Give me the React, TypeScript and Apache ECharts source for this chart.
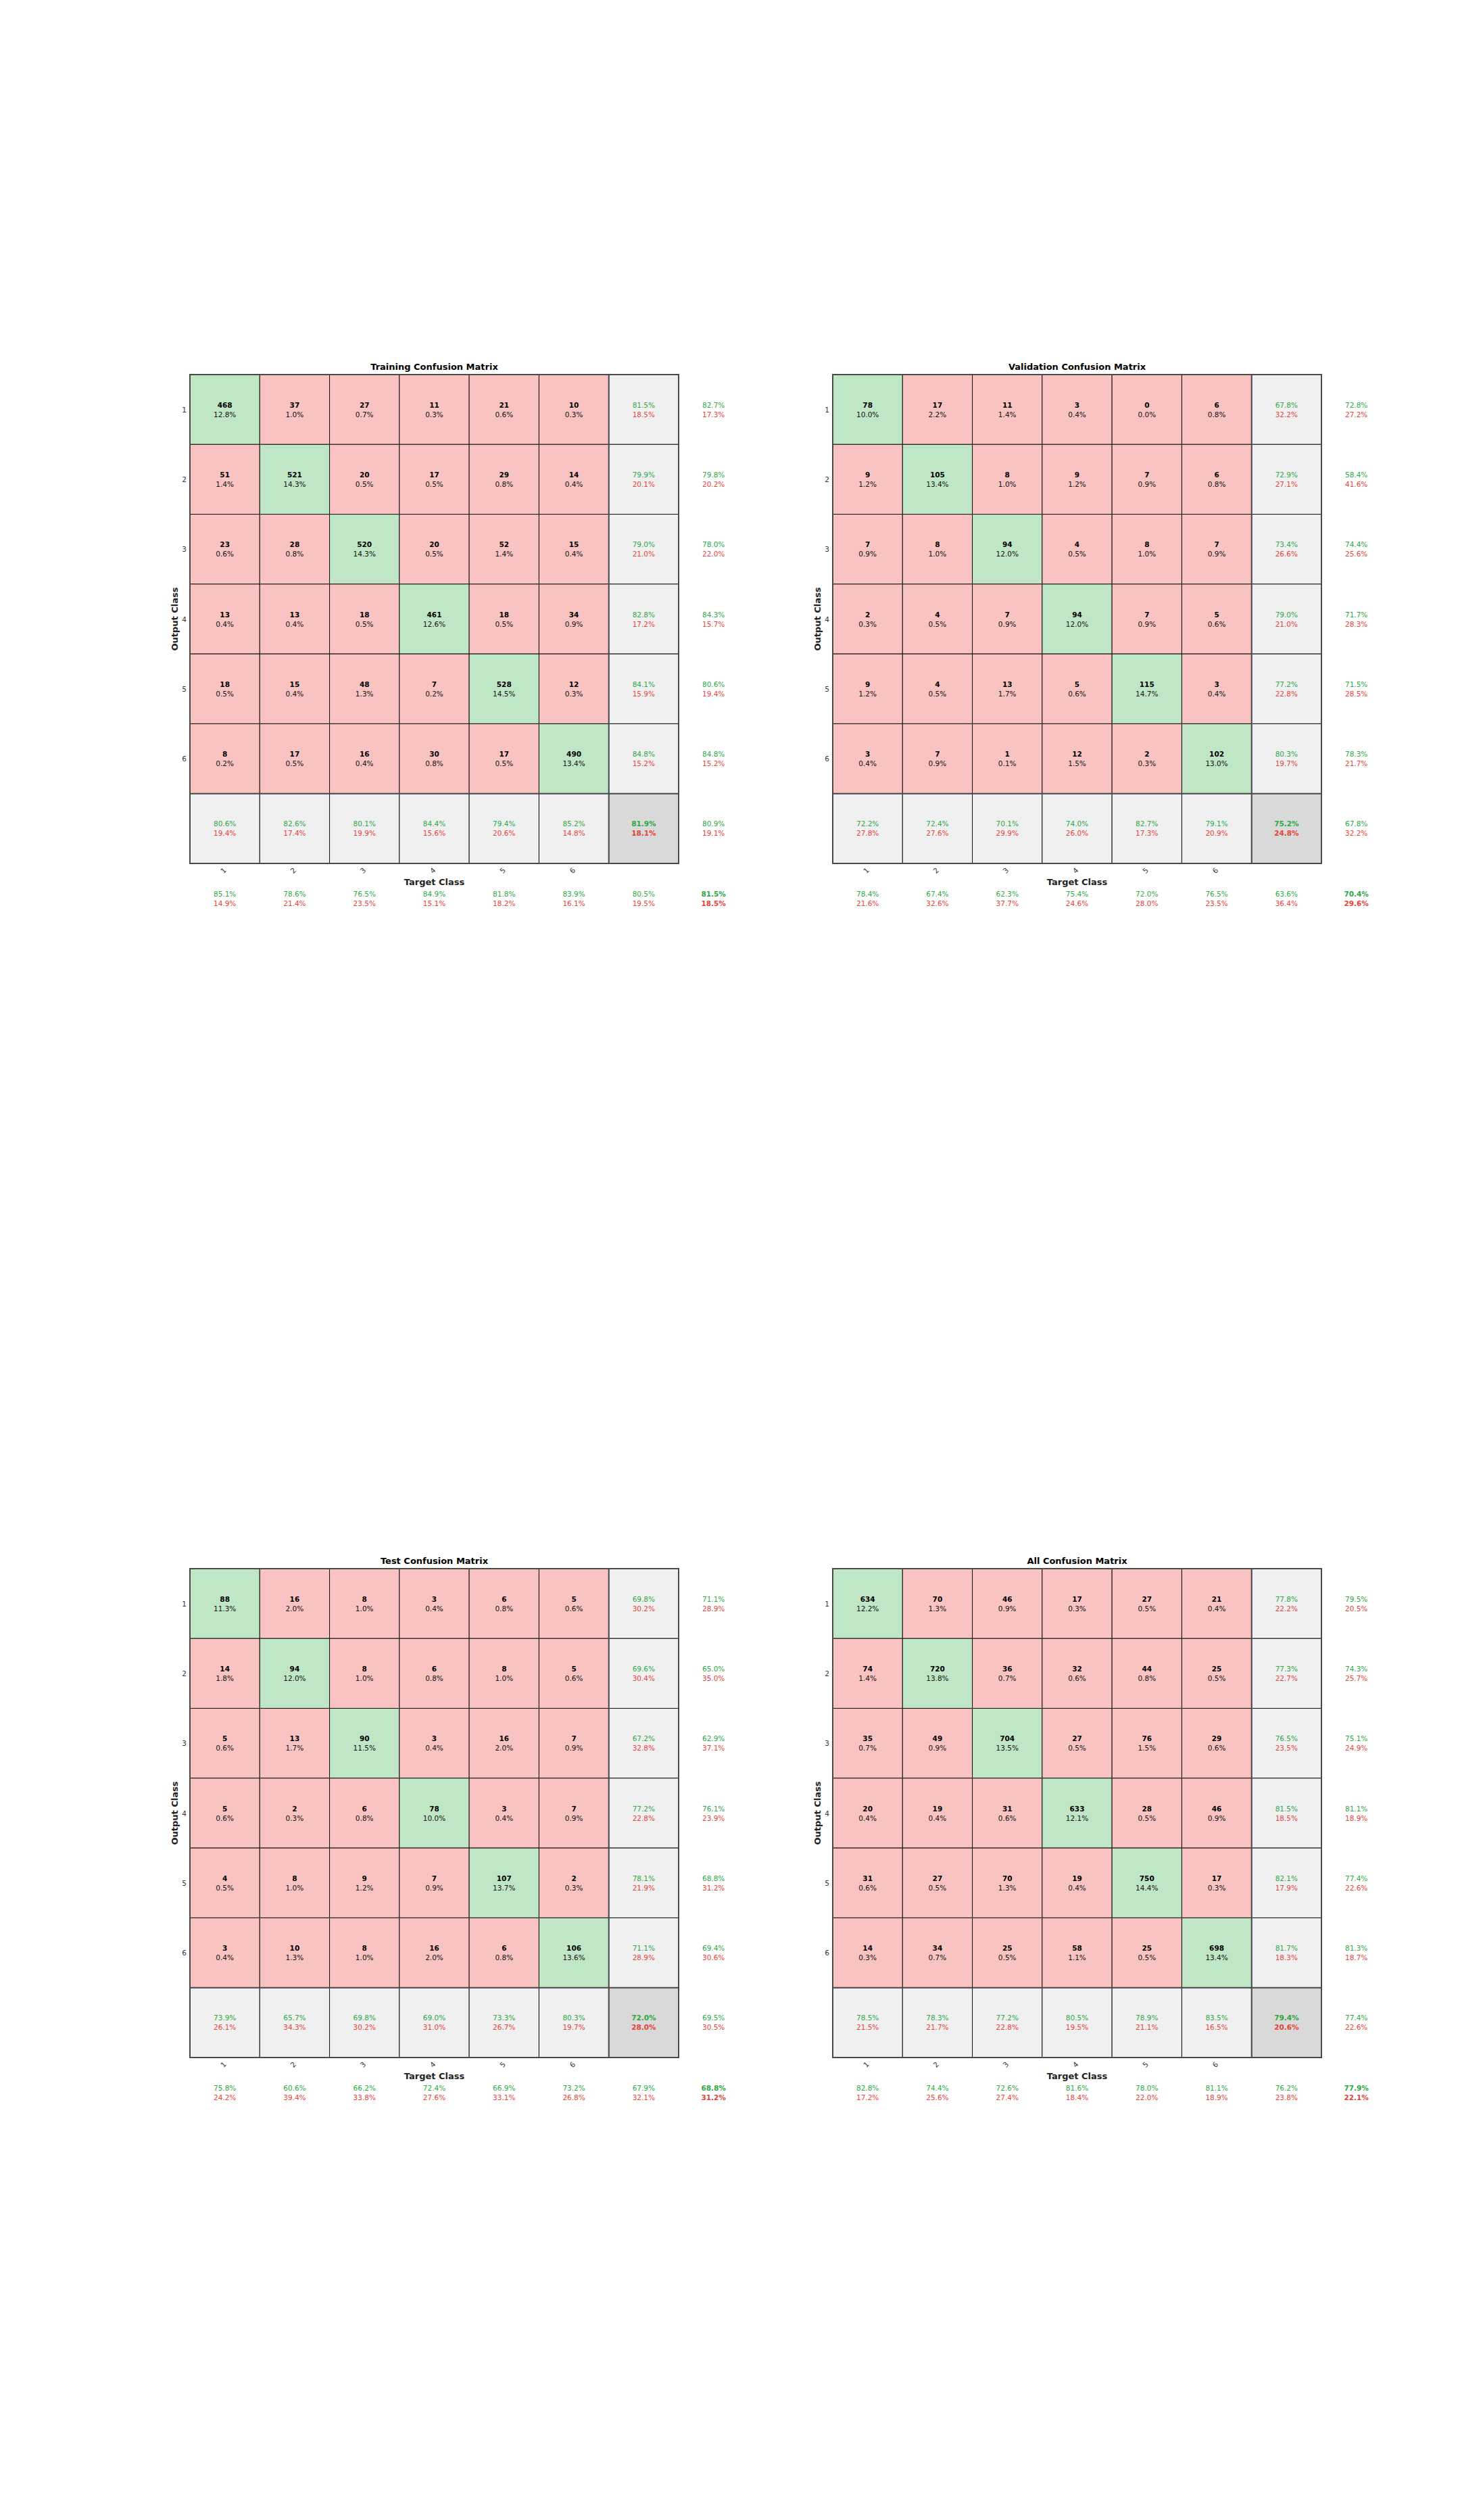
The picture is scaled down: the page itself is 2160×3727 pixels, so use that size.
import React, { useEffect, useRef } from 'react';
import * as echarts from 'echarts';

// ---------- data ----------
const CLASS_LABELS = ['1', '2', '3', '4', '5', '6', ''];
const TITLES = ['Training Confusion Matrix', 'Validation Confusion Matrix', 'Test Confusion Matrix', 'All Confusion Matrix'];

// Training
const trainCounts = [
  [468, 37, 27, 11, 21, 10],
  [51, 521, 20, 17, 29, 14],
  [23, 28, 520, 20, 52, 15],
  [13, 13, 18, 461, 18, 34],
  [18, 15, 48, 7, 528, 12],
  [8, 17, 16, 30, 17, 490],
];
const trainPct = [
  [12.8, 1.0, 0.7, 0.3, 0.6, 0.3],
  [1.4, 14.3, 0.5, 0.5, 0.8, 0.4],
  [0.6, 0.8, 14.3, 0.5, 1.4, 0.4],
  [0.4, 0.4, 0.5, 12.6, 0.5, 0.9],
  [0.5, 0.4, 1.3, 0.2, 14.5, 0.3],
  [0.2, 0.5, 0.4, 0.8, 0.5, 13.4],
];
const trainRowSum = [[81.5, 18.5], [79.9, 20.1], [79.0, 21.0], [82.8, 17.2], [84.1, 15.9], [84.8, 15.2]];
const trainColSum = [[80.6, 19.4], [82.6, 17.4], [80.1, 19.9], [84.4, 15.6], [79.4, 20.6], [85.2, 14.8]];
const trainCorner = [81.9, 18.1];
const trainOuterCol = [[82.7, 17.3], [79.8, 20.2], [78.0, 22.0], [84.3, 15.7], [80.6, 19.4], [84.8, 15.2], [80.9, 19.1]];
const trainOuterRow = [[85.1, 14.9], [78.6, 21.4], [76.5, 23.5], [84.9, 15.1], [81.8, 18.2], [83.9, 16.1], [80.5, 19.5], [81.5, 18.5]];

// Validation
const valCounts = [
  [78, 17, 11, 3, 0, 6],
  [9, 105, 8, 9, 7, 6],
  [7, 8, 94, 4, 8, 7],
  [2, 4, 7, 94, 7, 5],
  [9, 4, 13, 5, 115, 3],
  [3, 7, 1, 12, 2, 102],
];
const valPct = [
  [10.0, 2.2, 1.4, 0.4, 0.0, 0.8],
  [1.2, 13.4, 1.0, 1.2, 0.9, 0.8],
  [0.9, 1.0, 12.0, 0.5, 1.0, 0.9],
  [0.3, 0.5, 0.9, 12.0, 0.9, 0.6],
  [1.2, 0.5, 1.7, 0.6, 14.7, 0.4],
  [0.4, 0.9, 0.1, 1.5, 0.3, 13.0],
];
const valRowSum = [[67.8, 32.2], [72.9, 27.1], [73.4, 26.6], [79.0, 21.0], [77.2, 22.8], [80.3, 19.7]];
const valColSum = [[72.2, 27.8], [72.4, 27.6], [70.1, 29.9], [74.0, 26.0], [82.7, 17.3], [79.1, 20.9]];
const valCorner = [75.2, 24.8];
const valOuterCol = [[72.8, 27.2], [58.4, 41.6], [74.4, 25.6], [71.7, 28.3], [71.5, 28.5], [78.3, 21.7], [67.8, 32.2]];
const valOuterRow = [[78.4, 21.6], [67.4, 32.6], [62.3, 37.7], [75.4, 24.6], [72.0, 28.0], [76.5, 23.5], [63.6, 36.4], [70.4, 29.6]];

// Test
const testCounts = [
  [88, 16, 8, 3, 6, 5],
  [14, 94, 8, 6, 8, 5],
  [5, 13, 90, 3, 16, 7],
  [5, 2, 6, 78, 3, 7],
  [4, 8, 9, 7, 107, 2],
  [3, 10, 8, 16, 6, 106],
];
const testPct = [
  [11.3, 2.0, 1.0, 0.4, 0.8, 0.6],
  [1.8, 12.0, 1.0, 0.8, 1.0, 0.6],
  [0.6, 1.7, 11.5, 0.4, 2.0, 0.9],
  [0.6, 0.3, 0.8, 10.0, 0.4, 0.9],
  [0.5, 1.0, 1.2, 0.9, 13.7, 0.3],
  [0.4, 1.3, 1.0, 2.0, 0.8, 13.6],
];
const testRowSum = [[69.8, 30.2], [69.6, 30.4], [67.2, 32.8], [77.2, 22.8], [78.1, 21.9], [71.1, 28.9]];
const testColSum = [[73.9, 26.1], [65.7, 34.3], [69.8, 30.2], [69.0, 31.0], [73.3, 26.7], [80.3, 19.7]];
const testCorner = [72.0, 28.0];
const testOuterCol = [[71.1, 28.9], [65.0, 35.0], [62.9, 37.1], [76.1, 23.9], [68.8, 31.2], [69.4, 30.6], [69.5, 30.5]];
const testOuterRow = [[75.8, 24.2], [60.6, 39.4], [66.2, 33.8], [72.4, 27.6], [66.9, 33.1], [73.2, 26.8], [67.9, 32.1], [68.8, 31.2]];

// All
const allCounts = [
  [634, 70, 46, 17, 27, 21],
  [74, 720, 36, 32, 44, 25],
  [35, 49, 704, 27, 76, 29],
  [20, 19, 31, 633, 28, 46],
  [31, 27, 70, 19, 750, 17],
  [14, 34, 25, 58, 25, 698],
];
const allPct = [
  [12.2, 1.3, 0.9, 0.3, 0.5, 0.4],
  [1.4, 13.8, 0.7, 0.6, 0.8, 0.5],
  [0.7, 0.9, 13.5, 0.5, 1.5, 0.6],
  [0.4, 0.4, 0.6, 12.1, 0.5, 0.9],
  [0.6, 0.5, 1.3, 0.4, 14.4, 0.3],
  [0.3, 0.7, 0.5, 1.1, 0.5, 13.4],
];
const allRowSum = [[77.8, 22.2], [77.3, 22.7], [76.5, 23.5], [81.5, 18.5], [82.1, 17.9], [81.7, 18.3]];
const allColSum = [[78.5, 21.5], [78.3, 21.7], [77.2, 22.8], [80.5, 19.5], [78.9, 21.1], [83.5, 16.5]];
const allCorner = [79.4, 20.6];
const allOuterCol = [[79.5, 20.5], [74.3, 25.7], [75.1, 24.9], [81.1, 18.9], [77.4, 22.6], [81.3, 18.7], [77.4, 22.6]];
const allOuterRow = [[82.8, 17.2], [74.4, 25.6], [72.6, 27.4], [81.6, 18.4], [78.0, 22.0], [81.1, 18.9], [76.2, 23.8], [77.9, 22.1]];

const MATRICES = [
  { counts: trainCounts, pct: trainPct, rowSum: trainRowSum, colSum: trainColSum, corner: trainCorner, outerCol: trainOuterCol, outerRow: trainOuterRow },
  { counts: valCounts, pct: valPct, rowSum: valRowSum, colSum: valColSum, corner: valCorner, outerCol: valOuterCol, outerRow: valOuterRow },
  { counts: testCounts, pct: testPct, rowSum: testRowSum, colSum: testColSum, corner: testCorner, outerCol: testOuterCol, outerRow: testOuterRow },
  { counts: allCounts, pct: allPct, rowSum: allRowSum, colSum: allColSum, corner: allCorner, outerCol: allOuterCol, outerRow: allOuterRow },
];

// ---------- layout & style ----------
const GRID_POS = [
  { left: 281, top: 554 },
  { left: 1232, top: 554 },
  { left: 281, top: 2320 },
  { left: 1232, top: 2320 },
];
const GRID_SIZE = 723;
const FONT = '"DejaVu Sans", "Liberation Sans", sans-serif';
const GREEN_FILL = '#bfe6c5';
const RED_FILL = '#f8c3c0';
const GRAY_FILL = '#f0f0f0';
const DARK_FILL = '#d9d9d9';
const GREEN_TEXT = '#2ea845';
const RED_TEXT = '#e4433a';
const CELL_FS = 10.5;

const fmt = (v: number) => v.toFixed(1) + '%';

type Item = { v: number[]; kind: string; a: string; b: string; dx?: number; dy?: number; bold?: boolean };

function buildItems(m: any): Item[] {
  const items: Item[] = [];
  for (let r = 0; r < 6; r++) {
    for (let c = 0; c < 6; c++) {
      items.push({ v: [c, r], kind: r === c ? 'diag' : 'off', a: String(m.counts[r][c]), b: fmt(m.pct[r][c]) });
    }
  }
  for (let r = 0; r < 6; r++) items.push({ v: [6, r], kind: 'sum', a: fmt(m.rowSum[r][0]), b: fmt(m.rowSum[r][1]) });
  for (let c = 0; c < 6; c++) items.push({ v: [c, 6], kind: 'sum', a: fmt(m.colSum[c][0]), b: fmt(m.colSum[c][1]) });
  items.push({ v: [6, 6], kind: 'corner', a: fmt(m.corner[0]), b: fmt(m.corner[1]), bold: true });
  for (let r = 0; r < 7; r++) items.push({ v: [6, r], kind: 'text', dx: 1, a: fmt(m.outerCol[r][0]), b: fmt(m.outerCol[r][1]) });
  for (let c = 0; c < 7; c++) items.push({ v: [c, 6], kind: 'text', dy: 1, a: fmt(m.outerRow[c][0]), b: fmt(m.outerRow[c][1]) });
  items.push({ v: [6, 6], kind: 'text', dx: 1, dy: 1, bold: true, a: fmt(m.outerRow[7][0]), b: fmt(m.outerRow[7][1]) });
  items.push({ v: [0, 0], kind: 'frame', a: '', b: '' });
  return items;
}

function textEl(text: string, x: number, y: number, fill: string, bold: boolean, z2 = 20) {
  return {
    type: 'text',
    z2,
    style: {
      text, x, y, fill,
      fontSize: CELL_FS,
      fontWeight: bold ? 'bold' : 'normal',
      fontFamily: FONT,
      align: 'center', verticalAlign: 'middle',
      textAlign: 'center', textVerticalAlign: 'middle',
    },
  };
}

function makeRenderItem(items: Item[]) {
  return (params: any, api: any) => {
    const it = items[params.dataIndex];
    const p = api.coord([api.value(0), api.value(1)]);
    const sz = api.size([1, 1]);
    const w = sz[0], h = sz[1];
    if (it.kind === 'frame') {
      const x0 = p[0] - w / 2, y0 = p[1] - h / 2;
      const st = { stroke: '#4a4a4a', lineWidth: 2, fill: 'none' };
      return {
        type: 'group',
        children: [
          { type: 'line', z2: 30, shape: { x1: x0 + 6 * w, y1: y0, x2: x0 + 6 * w, y2: y0 + 7 * h }, style: st },
          { type: 'line', z2: 30, shape: { x1: x0, y1: y0 + 6 * h, x2: x0 + 7 * w, y2: y0 + 6 * h }, style: st },
          { type: 'rect', z2: 31, shape: { x: x0, y: y0, width: 7 * w, height: 7 * h }, style: st },
        ],
      };
    }
    const cx = p[0] + (it.dx || 0) * w;
    const cy = p[1] + (it.dy || 0) * h;
    const children: any[] = [];
    if (it.kind !== 'text') {
      const fill = it.kind === 'diag' ? GREEN_FILL : it.kind === 'off' ? RED_FILL : it.kind === 'sum' ? GRAY_FILL : DARK_FILL;
      children.push({
        type: 'rect', z2: 1,
        shape: { x: cx - w / 2, y: cy - h / 2, width: w, height: h },
        style: { fill, stroke: '#111', lineWidth: 1 },
      });
    }
    if (it.kind === 'diag' || it.kind === 'off') {
      children.push(textEl(it.a, cx, cy - 7, '#000', true));
      children.push(textEl(it.b, cx, cy + 7, '#111', false));
    } else {
      children.push(textEl(it.a, cx, cy - 7, GREEN_TEXT, !!it.bold));
      children.push(textEl(it.b, cx, cy + 7, RED_TEXT, !!it.bold));
    }
    return { type: 'group', children };
  };
}

function buildOption() {
  const grid: any[] = [];
  const xAxis: any[] = [];
  const yAxis: any[] = [];
  const series: any[] = [];
  const graphic: any[] = [];
  MATRICES.forEach((m, i) => {
    const g = GRID_POS[i];
    grid.push({ left: g.left, top: g.top, width: GRID_SIZE, height: GRID_SIZE, containLabel: false });
    xAxis.push({
      type: 'category', gridIndex: i, data: CLASS_LABELS, position: 'bottom',
      axisLine: { show: false }, axisTick: { show: false }, splitLine: { show: false },
      axisLabel: { rotate: 45, fontSize: 10.5, color: '#333', margin: 8, fontFamily: FONT, interval: 0 },
      name: 'Target Class', nameLocation: 'middle', nameGap: 21,
      nameTextStyle: { fontWeight: 'bold', fontSize: 13, color: '#222', fontFamily: FONT },
    });
    yAxis.push({
      type: 'category', gridIndex: i, data: CLASS_LABELS, inverse: true,
      axisLine: { show: false }, axisTick: { show: false }, splitLine: { show: false },
      axisLabel: { fontSize: 10.5, color: '#333', margin: 5, fontFamily: FONT, interval: 0 },
      name: 'Output Class', nameLocation: 'middle', nameGap: 16, nameRotate: 90,
      nameTextStyle: { fontWeight: 'bold', fontSize: 13, color: '#222', fontFamily: FONT },
    });
    const items = buildItems(m);
    series.push({
      type: 'custom', xAxisIndex: i, yAxisIndex: i, clip: false,
      renderItem: makeRenderItem(items),
      encode: { x: 0, y: 1 },
      data: items.map((it) => it.v),
      silent: true,
    });
    graphic.push({
      type: 'text',
      x: g.left + GRID_SIZE / 2,
      y: g.top - 12,
      style: {
        text: TITLES[i], fill: '#000', fontSize: 13, fontWeight: 'bold', fontFamily: FONT,
        align: 'center', verticalAlign: 'middle', textAlign: 'center', textVerticalAlign: 'middle',
      },
    });
  });
  return { animation: false, backgroundColor: '#ffffff', grid, xAxis, yAxis, series, graphic };
}

export default function App() {
  const ref = useRef<HTMLDivElement>(null);
  useEffect(() => {
    if (!ref.current) return;
    const chart = echarts.init(ref.current, undefined, { renderer: 'svg' });
    chart.setOption(buildOption() as any);
    return () => chart.dispose();
  }, []);
  return (
    <div
      ref={ref}
      style={{ position: 'absolute', left: 0, top: 0, width: 2160, height: 3727, background: '#fff' }}
    />
  );
}
